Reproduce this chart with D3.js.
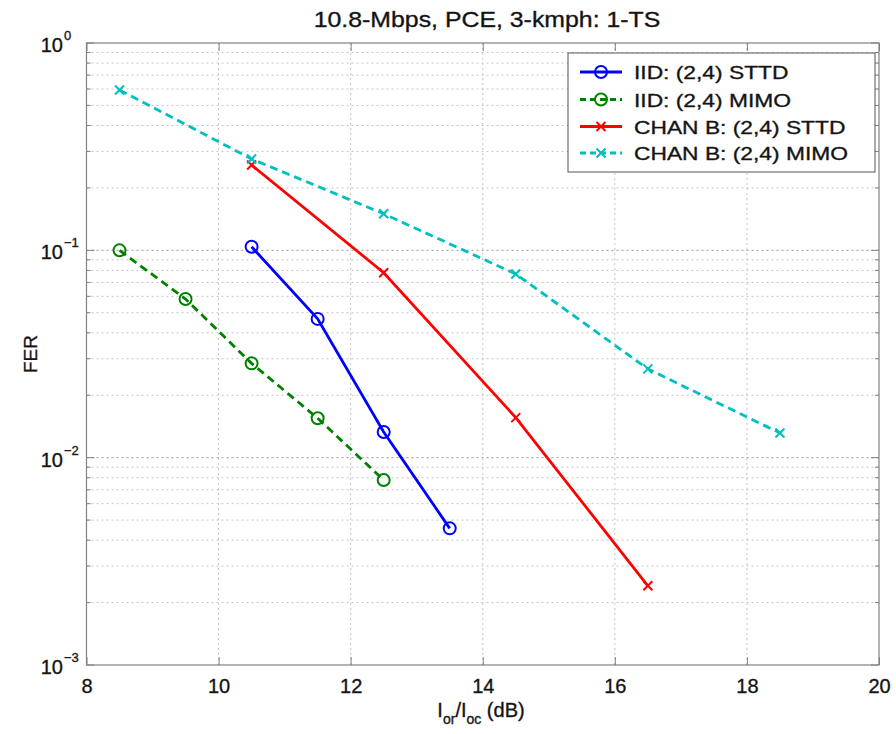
<!DOCTYPE html>
<html>
<head>
<meta charset="utf-8">
<script src="https://cdn.jsdelivr.net/npm/d3@7"></script>
<style>
  html, body { margin: 0; padding: 0; background: #fff; }
  svg { display: block; font-family: "Liberation Sans", Arial, Helvetica, sans-serif; }
  svg text { stroke: #222; stroke-width: 0.35px; }
</style>
</head>
<body>
<div id="chart"></div>
<script>
// Chart data
const chartTitle = '10.8-Mbps, PCE, 3-kmph: 1-TS';
const xTicks = [8, 10, 12, 14, 16, 18, 20];
const yDecades = [-3, -2, -1, 0];

const seriesNames = ['IID: (2,4) STTD', 'IID: (2,4) MIMO', 'CHAN B: (2,4) STTD', 'CHAN B: (2,4) MIMO'];

const iidSttdX = [10.5, 11.5, 12.5, 13.5];
const iidSttdFer = [0.104, 0.0467, 0.0133, 0.00456];

const iidMimoX = [8.5, 9.5, 10.5, 11.5, 12.5];
const iidMimoFer = [0.100, 0.0582, 0.0285, 0.0155, 0.0078];

const chanBSttdX = [10.5, 12.5, 14.5, 16.5];
const chanBSttdFer = [0.258, 0.078, 0.0156, 0.00241];

const chanBMimoX = [8.5, 10.5, 12.5, 14.5, 16.5, 18.5];
const chanBMimoFer = [0.593, 0.276, 0.150, 0.0769, 0.0268, 0.01315];

const width = 896, height = 734;
const margin = { top: 43, right: 17, bottom: 69, left: 86.5 };

const svg = d3.select('#chart').append('svg')
  .attr('width', width)
  .attr('height', height)
  .attr('viewBox', [0, 0, width, height]);

const x = d3.scaleLinear().domain([8, 20]).range([margin.left, width - margin.right]);
const y = d3.scaleLog().domain([1e-3, 1]).range([height - margin.bottom, margin.top]);

const x0 = x.range()[0], x1 = x.range()[1];
const y0 = y.range()[0], y1 = y.range()[1];

// all log ticks: 1..9 * 10^d
const logTicks = [];
yDecades.slice(0, -1).forEach(d => {
  for (let k = 1; k <= 9; k++) logTicks.push(k * Math.pow(10, d));
});
logTicks.push(1);

const isMajor = v => Math.abs(Math.log10(v) - Math.round(Math.log10(v))) < 1e-9;

// Grid (dotted, MATLAB style)
const grid = svg.append('g');
grid.selectAll('line.gx')
  .data(xTicks.slice(1, -1))
  .join('line')
  .attr('x1', d => x(d)).attr('x2', d => x(d))
  .attr('y1', y1).attr('y2', y0)
  .attr('stroke', '#c4c4c4')
  .attr('stroke-width', 1)
  .attr('stroke-dasharray', '2,3');

grid.selectAll('line.gy')
  .data(logTicks.filter(v => v > 1e-3 && v < 1))
  .join('line')
  .attr('x1', x0).attr('x2', x1)
  .attr('y1', d => y(d)).attr('y2', d => y(d))
  .attr('stroke', d => isMajor(d) ? '#9a9a9a' : '#c4c4c4')
  .attr('stroke-width', 1)
  .attr('stroke-dasharray', '2,3');

// Axes (ticks inside)
const axisColor = '#808080';
function styleAxis(g) {
  g.select('.domain').remove();
  g.selectAll('.tick line').attr('stroke', axisColor);
}

svg.append('g')
  .attr('transform', `translate(0,${y0})`)
  .call(d3.axisBottom(x).tickValues(xTicks).tickSize(-8).tickPadding(14).tickFormat(d3.format('d')))
  .call(styleAxis)
  .call(g => g.selectAll('.tick text')
    .attr('font-size', 20)
    .attr('fill', '#111')
    .attr('font-family', '"Liberation Sans", Arial, sans-serif'));

svg.append('g')
  .attr('transform', `translate(0,${y1})`)
  .call(d3.axisTop(x).tickValues(xTicks).tickSize(-8).tickFormat(''))
  .call(styleAxis);

svg.append('g')
  .selectAll('line')
  .data(logTicks)
  .join('line')
  .attr('x1', x0).attr('x2', d => x0 + (isMajor(d) ? 8 : 4))
  .attr('y1', d => y(d)).attr('y2', d => y(d))
  .attr('stroke', axisColor);

svg.append('g')
  .selectAll('line')
  .data(logTicks)
  .join('line')
  .attr('x1', x1).attr('x2', d => x1 - (isMajor(d) ? 8 : 4))
  .attr('y1', d => y(d)).attr('y2', d => y(d))
  .attr('stroke', axisColor);

// Box
svg.append('rect')
  .attr('x', x0).attr('y', y1)
  .attr('width', x1 - x0).attr('height', y0 - y1)
  .attr('fill', 'none')
  .attr('stroke', axisColor)
  .attr('stroke-width', 1.2);

// Y tick labels 10^d
const yLab = svg.append('g');
yDecades.forEach(d => {
  const ty = y(Math.pow(10, d));
  yLab.append('text')
    .attr('x', 63).attr('y', ty + 9)
    .attr('text-anchor', 'end')
    .attr('font-size', 20)
    .attr('fill', '#111')
    .text('10');
  yLab.append('text')
    .attr('x', 64).attr('y', ty - 3)
    .attr('font-size', 13)
    .attr('fill', '#111')
    .text(d === 0 ? '0' : '\u2212' + Math.abs(d));
});

// Title
svg.append('text')
  .attr('transform', `translate(487,27) scale(1.13,1)`)
  .attr('text-anchor', 'middle')
  .attr('font-size', 22)
  .attr('fill', '#111')
  .text(chartTitle);

// X label: I_or/I_oc (dB)
const xl = svg.append('text')
  .attr('transform', `translate(481,717)`)
  .attr('text-anchor', 'middle')
  .attr('font-size', 20)
  .attr('fill', '#111');
xl.append('tspan').text('I');
xl.append('tspan').attr('font-size', 14).attr('dy', 7).text('or');
xl.append('tspan').attr('dy', -7).text('/I');
xl.append('tspan').attr('font-size', 14).attr('dy', 7).text('oc');
xl.append('tspan').attr('dy', -7).text(' (dB)');

// Y label
svg.append('text')
  .attr('transform', `translate(37,354) rotate(-90)`)
  .attr('text-anchor', 'middle')
  .attr('font-size', 19)
  .attr('fill', '#111')
  .text('FER');

// Series
const series = [
  { name: seriesNames[0], xs: iidSttdX, ys: iidSttdFer, color: '#0000ff', dash: null, marker: 'circle' },
  { name: seriesNames[1], xs: iidMimoX, ys: iidMimoFer, color: '#008000', dash: '8,5', marker: 'circle' },
  { name: seriesNames[2], xs: chanBSttdX, ys: chanBSttdFer, color: '#ff0000', dash: null, marker: 'x' },
  { name: seriesNames[3], xs: chanBMimoX, ys: chanBMimoFer, color: '#00bfbf', dash: '8,5', marker: 'x' }
];

const line = d3.line().x(d => x(d[0])).y(d => y(d[1]));

function drawMarker(g, type, cx, cy, color) {
  if (type === 'circle') {
    g.append('circle')
      .attr('cx', cx).attr('cy', cy).attr('r', 6)
      .attr('fill', 'none')
      .attr('stroke', color)
      .attr('stroke-width', 2);
  } else {
    const s = 4.5;
    g.append('path')
      .attr('d', `M${cx - s},${cy - s}L${cx + s},${cy + s}M${cx - s},${cy + s}L${cx + s},${cy - s}`)
      .attr('fill', 'none')
      .attr('stroke', color)
      .attr('stroke-width', 2);
  }
}

const plot = svg.append('g');
series.forEach(s => {
  const pts = s.xs.map((v, i) => [v, s.ys[i]]);
  plot.append('path')
    .datum(pts)
    .attr('d', line)
    .attr('fill', 'none')
    .attr('stroke', s.color)
    .attr('stroke-width', 2.8)
    .attr('stroke-dasharray', s.dash);
  const mg = plot.append('g');
  pts.forEach(p => drawMarker(mg, s.marker, x(p[0]), y(p[1]), s.color));
});

// Legend
const legend = svg.append('g');
legend.append('rect')
  .attr('x', 568).attr('y', 53)
  .attr('width', 307).attr('height', 119)
  .attr('fill', '#fff')
  .attr('stroke', '#555')
  .attr('stroke-width', 1);

const legendRowY = [72, 99.5, 126.5, 153];
series.forEach((s, i) => {
  const ly = legendRowY[i];
  legend.append('line')
    .attr('x1', 580).attr('x2', 622)
    .attr('y1', ly).attr('y2', ly)
    .attr('stroke', s.color)
    .attr('stroke-width', 2.8)
    .attr('stroke-dasharray', s.dash ? '6,4' : null);
  drawMarker(legend, s.marker, 601, ly, s.color);
  legend.append('text')
    .attr('transform', `translate(634,${ly + 7}) scale(1.2,1)`)
    .attr('font-size', 19)
    .attr('fill', '#111')
    .text(s.name);
});
</script>
</body>
</html>
